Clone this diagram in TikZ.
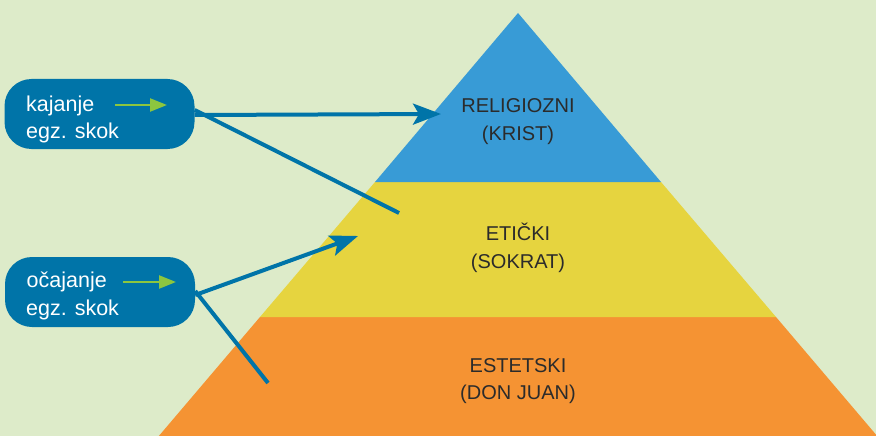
\documentclass[tikz,border=0pt]{standalone}
\usepackage{fontspec}
\setmainfont{Liberation Sans}
\usetikzlibrary{arrows.meta}
\definecolor{bg}{HTML}{DDEBC9}
\definecolor{pblue}{HTML}{389BD6}
\definecolor{pyellow}{HTML}{E6D43F}
\definecolor{porange}{HTML}{F59333}
\definecolor{boxblue}{HTML}{0074A8}
\definecolor{lgreen}{HTML}{8CC63F}
\definecolor{txt}{HTML}{2B2B2B}
\begin{document}
\begin{tikzpicture}[x=1pt,y=-1pt,
  skokbox/.style={fill=boxblue, rounded corners=27pt, minimum width=190pt, minimum height=70pt, inner sep=0pt},
  boxtext/.style={anchor=base west, text=white, inner sep=0pt, font=\fontsize{21.5}{26}\selectfont},
  layertext/.style={anchor=base, text=txt, inner sep=0pt, font=\fontsize{20}{24}\selectfont},
  greenarrow/.style={draw=lgreen, line width=2.3pt, -{Triangle[length=17pt,width=13pt]}},
  bluearrow/.style={draw=boxblue, line width=4pt, -{Stealth[length=28pt,width=21pt,inset=6pt]}},
  blueline/.style={draw=boxblue, line width=4pt}
]
\useasboundingbox (0,0) rectangle (876,436);
\fill[bg] (0,0) rectangle (876,436);
% pyramid layers
\fill[porange] (260,317) -- (776,317) -- (878,437) -- (158,437) -- cycle;
\fill[pyellow] (375,182) -- (661,182) -- (776,317) -- (260,317) -- cycle;
\fill[pblue] (518,13) -- (661,182) -- (375,182) -- cycle;
% layer labels
\node[layertext] (relA) at (518,113) {RELIGIOZNI};
\node[layertext] (relB) at (518,140) {(KRIST)};
\node[layertext] (etA) at (518,240) {ETIČKI};
\node[layertext] (etB) at (518,268) {(SOKRAT)};
\node[layertext] (esA) at (518,372) {ESTETSKI};
\node[layertext] (esB) at (518,399) {(DON JUAN)};
% left boxes
\node[skokbox] (box1) at (99.5,114) {};
\node[skokbox] (box2) at (100,292) {};
\node[boxtext] (t1a) at (26,111) {kajanje};
\node[boxtext] (t1b) at (26,138) {egz. skok};
\node[boxtext] (t2a) at (26.5,287) {očajanje};
\node[boxtext] (t2b) at (26,315) {egz. skok};
% green arrows inside boxes
\coordinate (g1s) at (115,105);
\coordinate (g1e) at (167,105);
\coordinate (g2s) at (123,282);
\coordinate (g2e) at (176,282);
\draw[greenarrow] (g1s) -- (g1e);
\draw[greenarrow] (g2s) -- (g2e);
% connectors
\coordinate (a1) at (441,114);
\coordinate (a2) at (399,213);
\coordinate (a3) at (358,236);
\coordinate (a4) at (268,383);
\draw[bluearrow] ([yshift=-1pt]box1.east) -- (a1);
\draw[blueline] ([yshift=4pt]box1.east) -- (a2);
\draw[bluearrow] ([yshift=-3pt]box2.east) -- (a3);
\draw[blueline] ([yshift=1pt]box2.east) -- (a4);
\end{tikzpicture}
\end{document}
